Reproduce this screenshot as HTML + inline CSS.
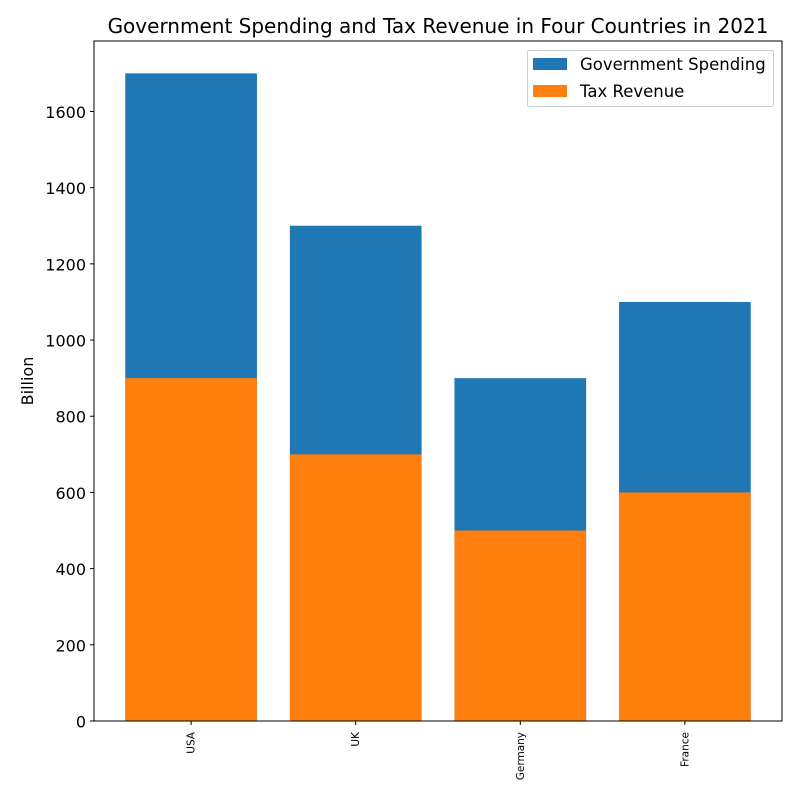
<!DOCTYPE html>
<html><head><meta charset="utf-8"><style>
body{margin:0;background:#fff;font-family:"Liberation Sans","DejaVu Sans",sans-serif;}
</style></head><body>
<svg id="chart" width="800" height="800" xmlns="http://www.w3.org/2000/svg">
<rect width="800" height="800" fill="#fff"/>
<text x="438" y="33" text-anchor="middle" font-size="20" fill="#000" font-family="DejaVu Sans, sans-serif">Government Spending and Tax Revenue in Four Countries in 2021</text>
<g id="bars"></g>
<g id="axes"></g>
<text transform="translate(33,381) rotate(-90)" text-anchor="middle" font-size="16" font-family="DejaVu Sans, sans-serif">Billion</text>
<g>
<rect x="527.5" y="50.5" width="246" height="56" fill="#fff" fill-opacity="0.8" stroke="#ccc" rx="2"/>
<rect x="533" y="58" width="34" height="12" fill="#1f77b4"/>
<text x="580" y="70" font-size="16.5" font-family="DejaVu Sans, sans-serif">Government Spending</text>
<rect x="533" y="85" width="34" height="12" fill="#ff7f0e"/>
<text x="580" y="97" font-size="16.5" font-family="DejaVu Sans, sans-serif">Tax Revenue</text>
</g>
</svg>
<script>
const categories=["USA","UK","Germany","France"];
const spending=[1700,1300,900,1100];
const tax=[900,700,500,600];
const yTicks=[0,200,400,600,800,1000,1200,1400,1600];
const NS="http://www.w3.org/2000/svg";
const L=94,R=782,T=41,B=721;
const yMax=1785,xMin=-0.59,xMax=3.59;
const y=v=>B-(v/yMax)*(B-T);
const x=i=>L+(i-xMin)/(xMax-xMin)*(R-L);
const bw=0.8*(R-L)/(xMax-xMin);
const bars=document.getElementById('bars'),axes=document.getElementById('axes');
function mk(t,a,p){const e=document.createElementNS(NS,t);for(const k in a)e.setAttribute(k,a[k]);p.appendChild(e);return e;}
categories.forEach((c,i)=>{
 const r1=mk('rect',{x:x(i)-bw/2,y:y(spending[i]),width:bw,height:y(0)-y(spending[i]),fill:'#1f77b4'},bars);
 
 
 const r2=mk('rect',{x:x(i)-bw/2,y:y(tax[i]),width:bw,height:y(0)-y(tax[i]),fill:'#ff7f0e'},bars);
 
 
 mk('line',{x1:x(i),x2:x(i),y1:B,y2:B+4,stroke:'#000'},axes);
 const t=mk('text',{transform:`translate(${x(i)+3.5},${B+11}) rotate(-90)`,'text-anchor':'end','font-size':'10.5','font-family':'DejaVu Sans, sans-serif'},axes);
 t.textContent=c;
 
 
});
yTicks.forEach(v=>{
 mk('line',{x1:L-4,x2:L,y1:y(v),y2:y(v),stroke:'#000'},axes);
 const t=mk('text',{x:L-8,y:y(v)+6.5,'text-anchor':'end','font-size':'16','font-family':'DejaVu Sans, sans-serif'},axes);
 t.textContent=v;
 
 
});
const f=mk('rect',{x:L,y:T,width:R-L,height:B-T,fill:'none',stroke:'#000','stroke-width':1},axes);


</script>
</body></html>
